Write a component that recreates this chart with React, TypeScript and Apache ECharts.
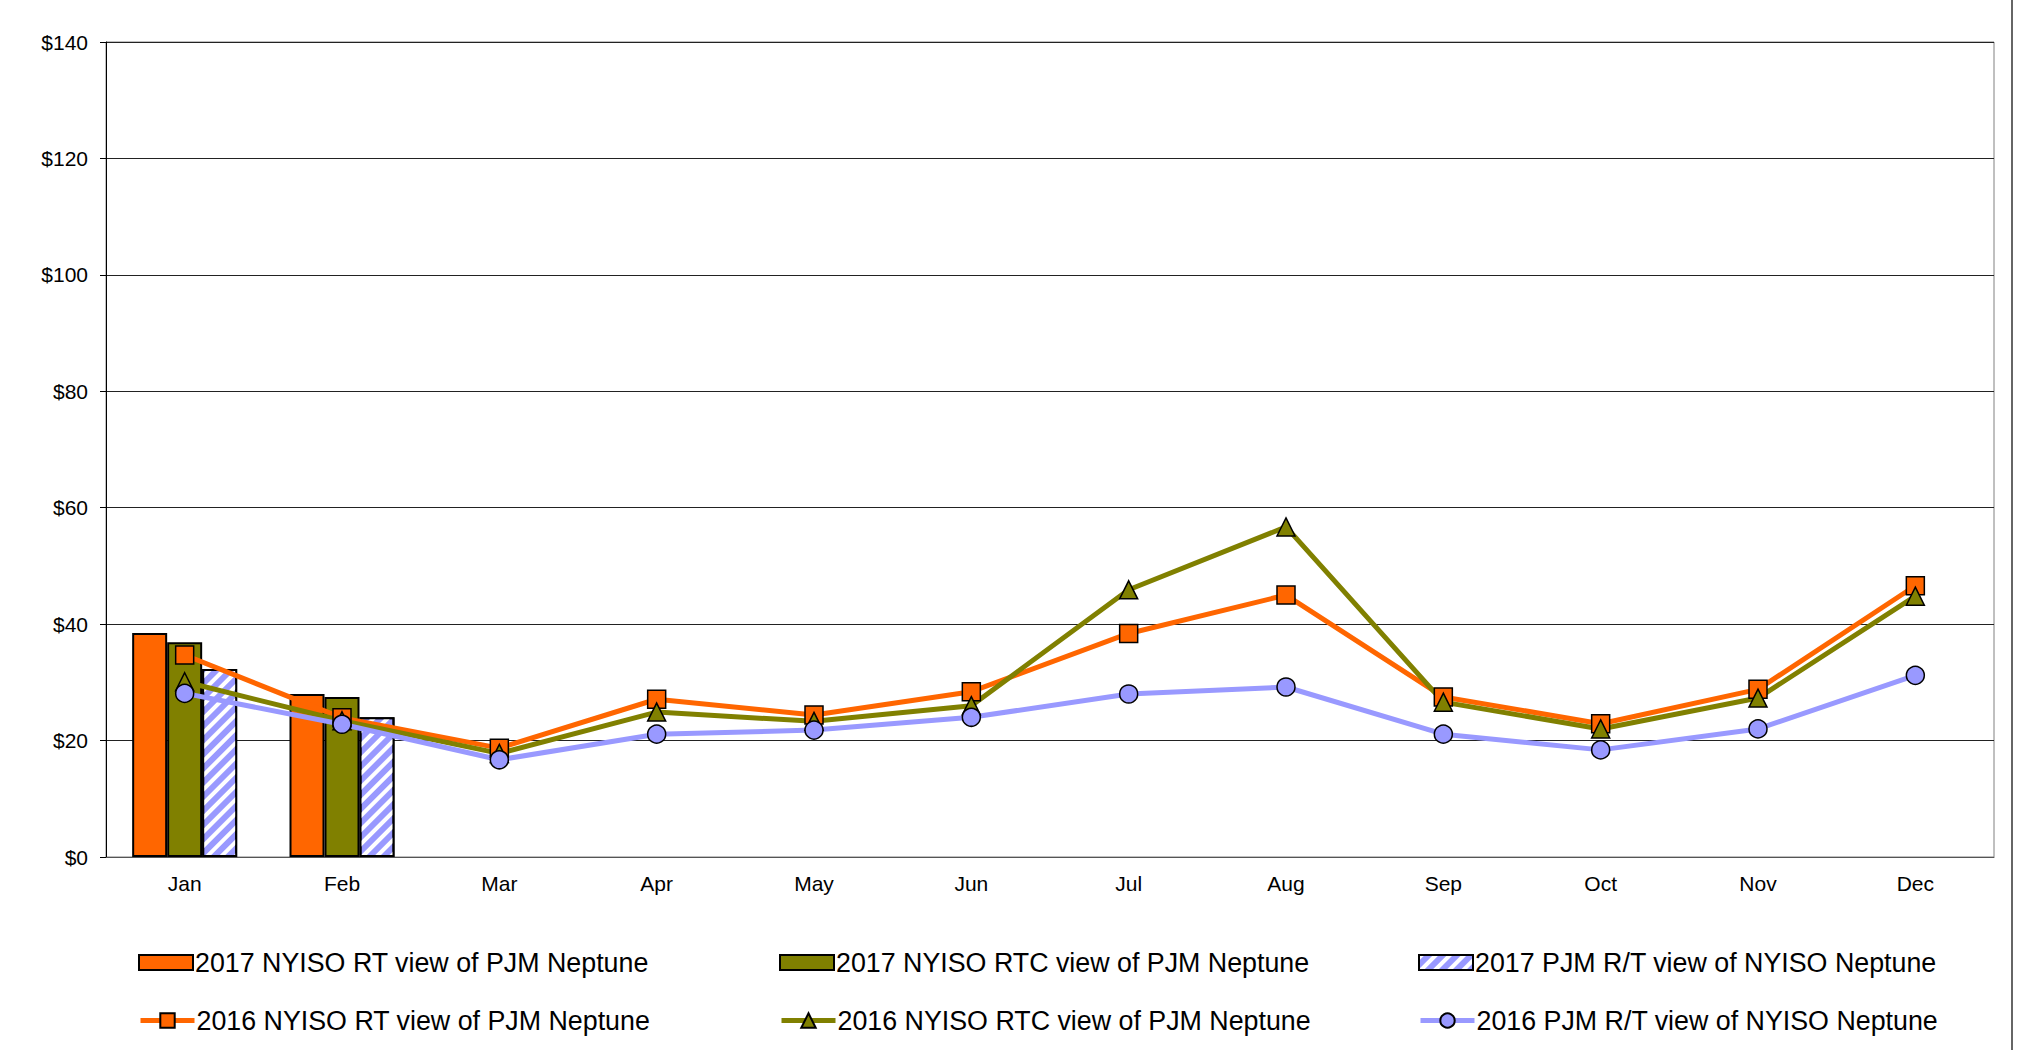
import React, { useEffect, useRef } from "react";
import * as echarts from "echarts";

const categories = ["Jan", "Feb", "Mar", "Apr", "May", "Jun", "Jul", "Aug", "Sep", "Oct", "Nov", "Dec"];
const yTicks = [0, 20, 40, 60, 80, 100, 120, 140];

const rt2017 = [38.5, 28.0];
const rtc2017 = [36.9, 27.5];
const pjm2017 = [32.3, 24.0];

const rt2016 = [34.7, 23.9, 18.7, 27.1, 24.4, 28.4, 38.4, 45.0, 27.5, 22.9, 28.8, 46.6];
const rtc2016 = [30.1, 23.4, 17.8, 24.9, 23.3, 26.0, 45.9, 56.7, 26.6, 22.0, 27.3, 44.8];
const pjm2016 = [28.1, 22.8, 16.7, 21.1, 21.8, 24.0, 28.0, 29.2, 21.1, 18.4, 22.0, 31.2];

const names = [
  "2017 NYISO RT view of PJM Neptune",
  "2017 NYISO RTC view of PJM Neptune",
  "2017 PJM R/T view of NYISO Neptune",
  "2016 NYISO RT view of PJM Neptune",
  "2016 NYISO RTC view of PJM Neptune",
  "2016 PJM R/T view of NYISO Neptune",
];

const ORANGE = "#FF6600";
const OLIVE = "#808000";
const BLUE = "#9999FF";
const FONT = "Liberation Sans, Arial, sans-serif";

export default function App() {
  const ref = useRef<HTMLDivElement>(null);
  useEffect(() => {
    if (!ref.current) return;
    const chart = echarts.init(ref.current, null, { renderer: "svg" });
    const barBase = {
      type: "bar",
      barWidth: 35,
      barGap: "0%",
      z: 2,
    };
    const lineBase = {
      type: "line",
      symbolSize: 18,
      z: 5,
    };
    const legendCommon = {
      orient: "horizontal",
      itemWidth: 54,
      padding: 0,
      selectedMode: false,
      textStyle: { fontFamily: FONT, fontSize: 26.8, color: "#000", padding: [0, 0, 0, -3] },
    };
    const colLeft = [138, 779, 1418];
    const barLegend = (i: number) => ({
      ...legendCommon,
      left: colLeft[i],
      top: 949,
      itemHeight: 15,
      data: [{ name: names[i], icon: "rect" }],
    });
    const lineLegend = (i: number, color: string) => ({
      ...legendCommon,
      left: colLeft[i],
      top: 1007,
      itemHeight: 18,
      data: [{ name: names[i + 3], lineStyle: { width: 5, color } }],
    });
    chart.setOption({
      animation: false,
      backgroundColor: "#fff",
      grid: {
        left: 106,
        top: 42,
        right: 25,
        bottom: 193,
        show: true,
        borderColor: "#808080",
        borderWidth: 1,
      },
      xAxis: {
        type: "category",
        data: categories,
        axisLine: { lineStyle: { color: "#555", width: 1 } },
        axisTick: { length: 6, lineStyle: { color: "#555" } },
        axisLabel: { fontFamily: FONT, fontSize: 21, color: "#000", margin: 16 },
      },
      yAxis: {
        type: "value",
        min: yTicks[0],
        max: yTicks[yTicks.length - 1],
        interval: 20,
        axisLine: { show: true, lineStyle: { color: "#000", width: 1 } },
        axisTick: { show: true, length: 6, lineStyle: { color: "#000" } },
        axisLabel: {
          fontFamily: FONT,
          fontSize: 21,
          color: "#000",
          margin: 18,
          formatter: (v: number) => "$" + v,
        },
        splitLine: { lineStyle: { color: "#222", width: 1 } },
      },
      legend: [
        barLegend(0),
        barLegend(1),
        barLegend(2),
        lineLegend(0, ORANGE),
        lineLegend(1, OLIVE),
        lineLegend(2, BLUE),
      ],
      graphic: [
        {
          type: "line",
          shape: { x1: 2012, y1: 0, x2: 2012, y2: 1050 },
          style: { stroke: "#333", lineWidth: 1.5 },
        },
      ],
      series: [
        {
          ...barBase,
          name: names[0],
          data: rt2017,
          itemStyle: { color: ORANGE, borderColor: "#000", borderWidth: 2 },
        },
        {
          ...barBase,
          name: names[1],
          data: rtc2017,
          itemStyle: { color: OLIVE, borderColor: "#000", borderWidth: 2 },
        },
        {
          ...barBase,
          name: names[2],
          data: pjm2017,
          itemStyle: {
            color: BLUE,
            borderColor: "#000",
            borderWidth: 2,
            decal: {
              symbol: "rect",
              symbolSize: 1,
              dashArrayX: [[1, 0]],
              dashArrayY: [3.5, 6],
              rotation: -Math.PI / 4,
              color: "#ffffff",
            },
          },
        },
        {
          ...lineBase,
          name: names[3],
          data: rt2016,
          symbol: "rect",
          lineStyle: { color: ORANGE, width: 5 },
          itemStyle: { color: ORANGE, borderColor: "#000", borderWidth: 1.5 },
        },
        {
          ...lineBase,
          name: names[4],
          data: rtc2016,
          symbol: "triangle",
          lineStyle: { color: OLIVE, width: 5 },
          itemStyle: { color: OLIVE, borderColor: "#000", borderWidth: 1.5 },
        },
        {
          ...lineBase,
          name: names[5],
          data: pjm2016,
          symbol: "circle",
          lineStyle: { color: BLUE, width: 5 },
          itemStyle: { color: BLUE, borderColor: "#000", borderWidth: 1.5 },
        },
      ],
    });
    return () => chart.dispose();
  }, []);
  return (
    <div
      ref={ref}
      style={{ position: "fixed", left: 0, top: 0, width: 2019, height: 1050, background: "#fff" }}
    />
  );
}
